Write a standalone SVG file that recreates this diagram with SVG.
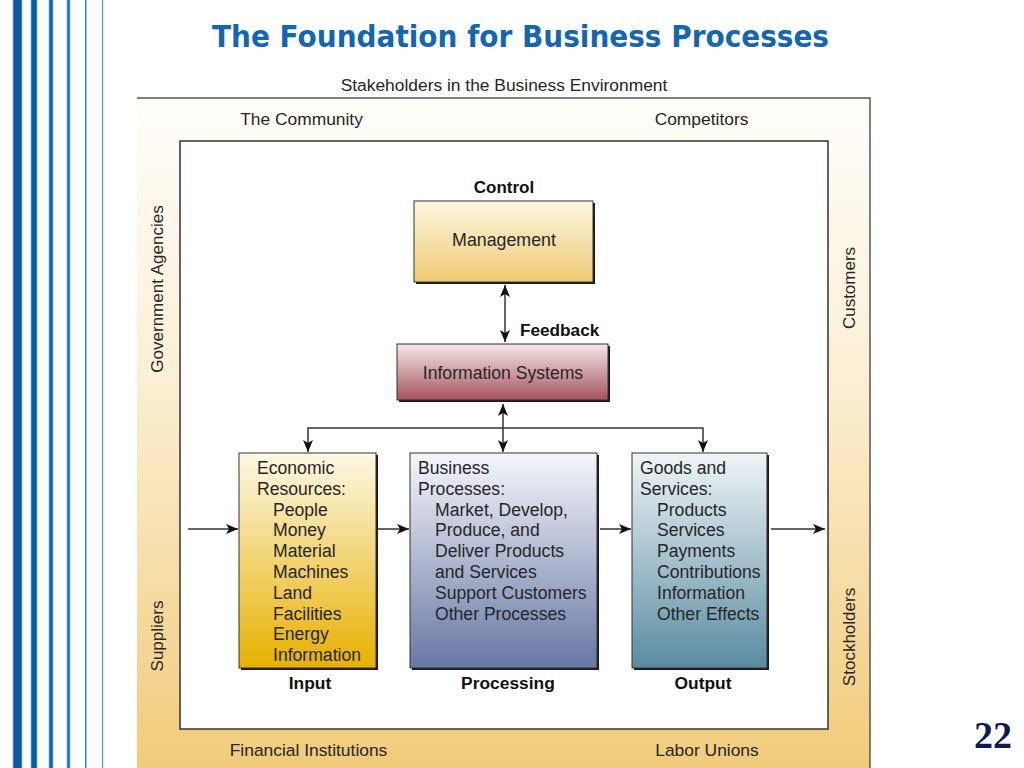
<svg xmlns="http://www.w3.org/2000/svg" width="1024" height="768" viewBox="0 0 1024 768">
<defs>
<linearGradient id="gFrame" x1="0" y1="0" x2="0" y2="1">
<stop offset="0" stop-color="#fffefa"/>
<stop offset="0.4" stop-color="#fbf0d6"/>
<stop offset="1" stop-color="#f1ca78"/>
</linearGradient>
<linearGradient id="gMgmt" x1="0" y1="0" x2="0" y2="1">
<stop offset="0" stop-color="#fdf6e0"/>
<stop offset="1" stop-color="#f0ca74"/>
</linearGradient>
<linearGradient id="gIS" x1="0" y1="0" x2="0" y2="1">
<stop offset="0" stop-color="#f7e8e8"/>
<stop offset="1" stop-color="#a5535e"/>
</linearGradient>
<linearGradient id="gEcon" x1="0" y1="0" x2="0" y2="1">
<stop offset="0" stop-color="#fdf8e6"/>
<stop offset="1" stop-color="#e8b000"/>
</linearGradient>
<linearGradient id="gBus" x1="0" y1="0" x2="0" y2="1">
<stop offset="0" stop-color="#f6f7fb"/>
<stop offset="1" stop-color="#6777a4"/>
</linearGradient>
<linearGradient id="gGoods" x1="0" y1="0" x2="0" y2="1">
<stop offset="0" stop-color="#eff5f7"/>
<stop offset="1" stop-color="#5a8ba1"/>
</linearGradient>
<marker id="ah" viewBox="0 0 12 10" refX="12" refY="5" markerWidth="12" markerHeight="10" markerUnits="userSpaceOnUse" orient="auto-start-reverse">
<path d="M0,0 L12,5 L0,10 L3,5 Z" fill="#111"/>
</marker>
</defs>
<style>
.t{font-family:"Liberation Sans",Arial,sans-serif;fill:#262626;}
.b{font-family:"Liberation Sans",Arial,sans-serif;font-weight:bold;fill:#111;}
.bx{stroke:#333;stroke-width:1;}
.sh{fill:#1a1a1a;}
.ln{stroke:#333;stroke-width:1.5;fill:none;}
.stripe{fill:#0b5a9c;stroke:#7ab8ea;stroke-width:0.8;}
</style>
<rect width="1024" height="768" fill="#ffffff"/>

<g id="stripes">
<rect class="stripe" x="13" y="-1" width="9" height="770"/>
<rect class="stripe" x="31" y="-1" width="6" height="770"/>
<rect class="stripe" x="49" y="-1" width="4" height="770" style="fill:#0f63aa"/>
<rect class="stripe" x="67" y="-1" width="3" height="770" style="fill:#1670c0"/>
<rect x="85" y="-1" width="1.5" height="770" fill="#2a84d6"/>
<rect x="102" y="-1" width="1.2" height="770" fill="#4a98dd"/>
</g>

<text id="title" x="520.5" y="47" text-anchor="middle" font-family="'DejaVu Sans',sans-serif" font-weight="bold" font-size="30" fill="#1566b1" textLength="617" lengthAdjust="spacingAndGlyphs">The Foundation for Business Processes</text>

<g id="environment">
<text class="t" x="504" y="91" text-anchor="middle" font-size="17.4">Stakeholders in the Business Environment</text>
<rect x="137" y="98" width="733" height="680" fill="url(#gFrame)"/>
<path d="M137,98 H870 V770" fill="none" stroke="#555" stroke-width="1.5"/>
<rect x="180" y="141" width="648" height="588" fill="#ffffff" stroke="#333" stroke-width="1.5"/>
<text class="t" x="301.5" y="125" text-anchor="middle" font-size="17.4">The Community</text>
<text class="t" x="701.5" y="125" text-anchor="middle" font-size="17.4">Competitors</text>
<text class="t" x="308.5" y="756" text-anchor="middle" font-size="17.4">Financial Institutions</text>
<text class="t" x="707" y="756" text-anchor="middle" font-size="17.4">Labor Unions</text>
<text class="t" transform="translate(163,289) rotate(-90)" text-anchor="middle" font-size="17">Government Agencies</text>
<text class="t" transform="translate(163,636) rotate(-90)" text-anchor="middle" font-size="17">Suppliers</text>
<text class="t" transform="translate(855,288) rotate(-90)" text-anchor="middle" font-size="17">Customers</text>
<text class="t" transform="translate(855,637) rotate(-90)" text-anchor="middle" font-size="17">Stockholders</text>
</g>

<g id="connectors">
<line class="ln" x1="505" y1="285" x2="505" y2="342" marker-start="url(#ah)" marker-end="url(#ah)"/>
<line class="ln" x1="503" y1="404" x2="503" y2="452" marker-start="url(#ah)" marker-end="url(#ah)"/>
<path class="ln" d="M308,452 V428 H703 V452" marker-start="url(#ah)" marker-end="url(#ah)"/>
<line class="ln" x1="188" y1="529" x2="238" y2="529" marker-end="url(#ah)"/>
<line class="ln" x1="378" y1="529" x2="409" y2="529" marker-end="url(#ah)"/>
<line class="ln" x1="600" y1="529" x2="631" y2="529" marker-end="url(#ah)"/>
<line class="ln" x1="771" y1="529" x2="825" y2="529" marker-end="url(#ah)"/>
</g>

<g id="management">
<text class="b" x="504" y="193" text-anchor="middle" font-size="17">Control</text>
<rect class="sh" x="416" y="203" width="179" height="81"/>
<rect class="bx" x="414" y="201" width="179" height="81" fill="url(#gMgmt)"/>
<text class="t" x="504" y="246" text-anchor="middle" font-size="17.8">Management</text>
</g>

<text id="feedback" class="b" x="520" y="336" font-size="17.2">Feedback</text>

<g id="information-systems">
<rect class="sh" x="399" y="346" width="211" height="56"/>
<rect class="bx" x="397" y="344" width="211" height="56" fill="url(#gIS)"/>
<text class="t" x="503" y="379" text-anchor="middle" font-size="17.6">Information Systems</text>
</g>

<g id="input">
<rect class="sh" x="241" y="455" width="137" height="215"/>
<rect class="bx" x="239" y="453" width="137" height="215" fill="url(#gEcon)"/>
<text class="t" font-size="17.6">
<tspan x="257" y="474">Economic</tspan>
<tspan x="257" y="494.8">Resources:</tspan>
<tspan x="273" y="515.6">People</tspan>
<tspan x="273" y="536.4">Money</tspan>
<tspan x="273" y="557.2">Material</tspan>
<tspan x="273" y="578">Machines</tspan>
<tspan x="273" y="598.8">Land</tspan>
<tspan x="273" y="619.6">Facilities</tspan>
<tspan x="273" y="640.4">Energy</tspan>
<tspan x="273" y="661.2">Information</tspan>
</text>
<text class="b" x="310" y="689" text-anchor="middle" font-size="17.4">Input</text>
</g>

<g id="processing">
<rect class="sh" x="412" y="455" width="187" height="215"/>
<rect class="bx" x="410" y="453" width="187" height="215" fill="url(#gBus)"/>
<text class="t" font-size="17.6">
<tspan x="418" y="474">Business</tspan>
<tspan x="418" y="494.8">Processes:</tspan>
<tspan x="435" y="515.6">Market, Develop,</tspan>
<tspan x="435" y="536.4">Produce, and</tspan>
<tspan x="435" y="557.2">Deliver Products</tspan>
<tspan x="435" y="578">and Services</tspan>
<tspan x="435" y="598.8">Support Customers</tspan>
<tspan x="435" y="619.6">Other Processes</tspan>
</text>
<text class="b" x="508" y="689" text-anchor="middle" font-size="17.4">Processing</text>
</g>

<g id="output">
<rect class="sh" x="634" y="455" width="135" height="215"/>
<rect class="bx" x="632" y="453" width="135" height="215" fill="url(#gGoods)"/>
<text class="t" font-size="17.6">
<tspan x="640" y="474">Goods and</tspan>
<tspan x="640" y="494.8">Services:</tspan>
<tspan x="657" y="515.6">Products</tspan>
<tspan x="657" y="536.4">Services</tspan>
<tspan x="657" y="557.2">Payments</tspan>
<tspan x="657" y="578">Contributions</tspan>
<tspan x="657" y="598.8">Information</tspan>
<tspan x="657" y="619.6">Other Effects</tspan>
</text>
<text class="b" x="703" y="689" text-anchor="middle" font-size="17.4">Output</text>
</g>

<text id="page-number" x="993" y="748" text-anchor="middle" font-family="'Liberation Serif',serif" font-weight="bold" font-size="38" fill="#0d1b4f">22</text>
</svg>
